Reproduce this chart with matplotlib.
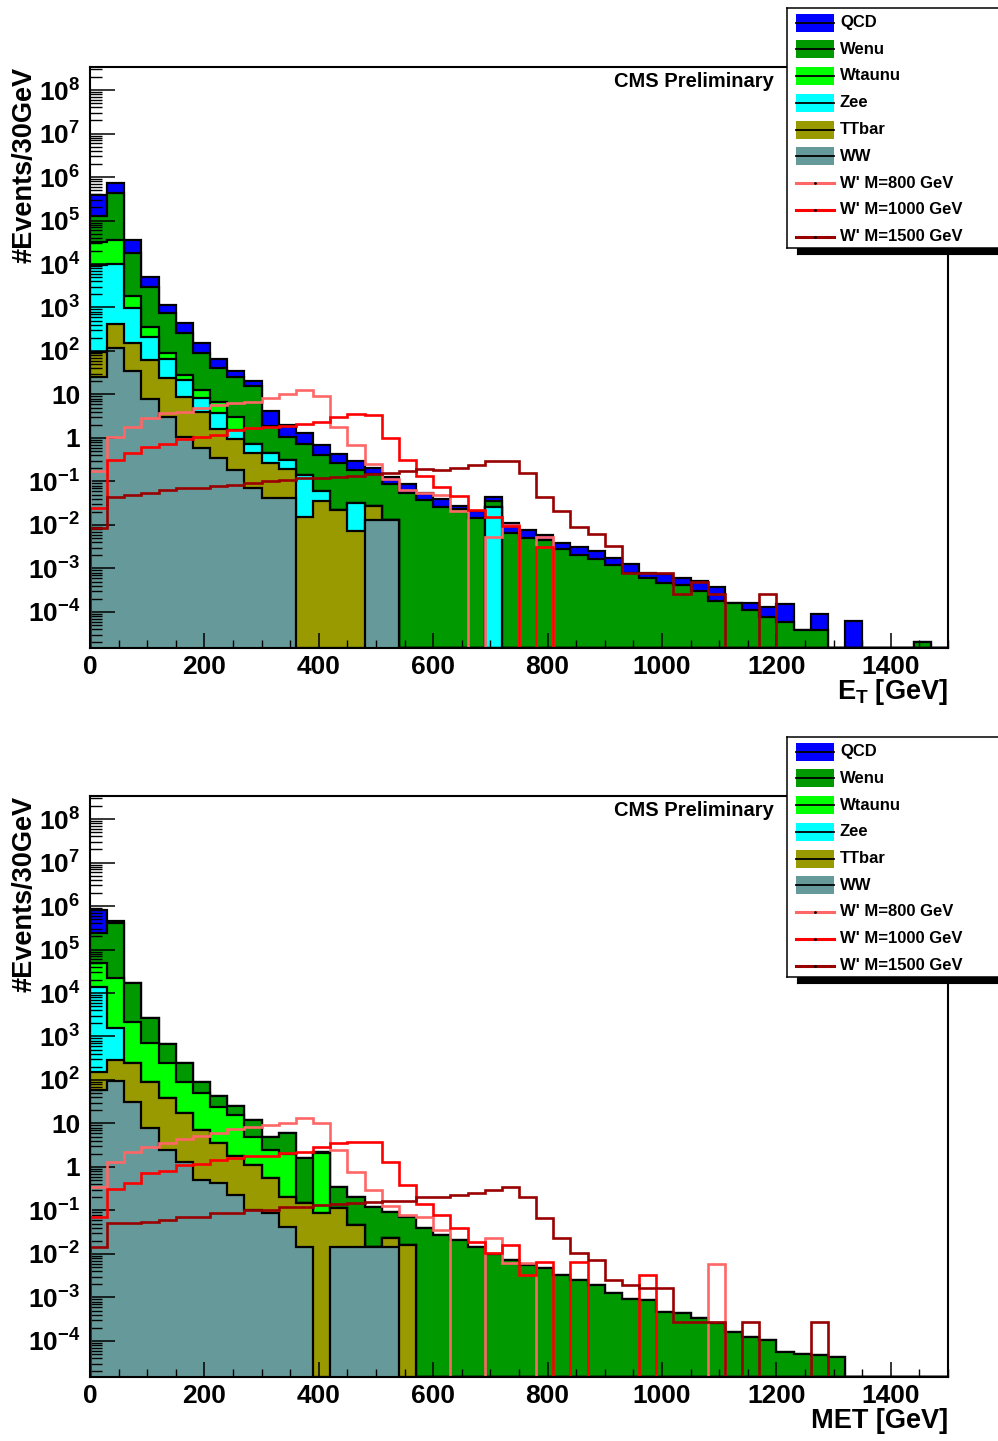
import numpy as np
import matplotlib
matplotlib.use('Agg')
import matplotlib.pyplot as plt
from matplotlib.ticker import LogLocator, FuncFormatter, MultipleLocator, NullFormatter, FixedLocator
from matplotlib.patches import Rectangle

plt.rcParams['font.family'] = 'Liberation Sans'
plt.rcParams['font.weight'] = 'bold'
plt.rcParams['mathtext.fontset'] = 'custom'
plt.rcParams['mathtext.rm'] = 'Liberation Sans:bold'
plt.rcParams['mathtext.it'] = 'Liberation Sans:bold'
plt.rcParams['mathtext.bf'] = 'Liberation Sans:bold'

# 50 bins of 30 GeV
edges = np.arange(0, 1501, 30)

# stack order: bottom -> top
samples = ['WW', 'TTbar', 'Zee', 'Wtaunu', 'Wenu', 'QCD']
sample_colors = ['#669999', '#999900', '#00ffff', '#00ff00', '#009900', '#0000ff']
signal_names = ["W' M=800 GeV", "W' M=1000 GeV", "W' M=1500 GeV"]
signal_colors = ['#ff6666', '#ff0000', '#990000']
ytick_values = [1e-4, 1e-3, 1e-2, 1e-1, 1, 10, 1e2, 1e3, 1e4, 1e5, 1e6, 1e7, 1e8]

# ---- electron E_T ----
et_ww = [25.7, 115, 34.7, 7.8, 3.1, 1.07, 0.575, 0.34, 0.182, 0.069, 0.041, 0.041,
         0, 0, 0, 0, 0.0129, 0.0129] + [0] * 32
et_ttbar = [70, 292, 120, 54, 20.3, 7.8, 3.4, 1.24, 0.75, 0.378, 0.222, 0.149,
            0.0151, 0.0355, 0.0219, 0.0074, 0.0146] + [0] * 33
et_zee = [9450, 9600, 800, 152, 41, 12.5, 4.15, 2.22, 0.58, 0.294, 0.194, 0.119,
          0.126, 0.026, 0, 0.025, 0, 0, 0, 0, 0, 0, 0, 0.0257] + [0] * 26
et_wtaunu = [22800, 25500, 865, 149, 26.6, 6.8, 4.45, 2.96, 1.58] + [0] * 41
et_wenu = [93500, 401000, 16000, 2660, 668, 235, 78.6, 34.9, 22.6, 15.1,
           1.45, 0.76, 0.583, 0.345, 0.241, 0.150, 0.124, 0.076, 0.0537, 0.0372,
           0.0257, 0.0229, 0.0141, 0.009, 0.0066, 0.0050, 0.00457, 0.00275, 0.00204, 0.00162,
           0.0012, 0.00079, 0.00059, 0.00047, 0.00042, 0.00031, 0.00018, 0.000158, 0.000112, 7.8e-5,
           5.8e-5, 3.9e-5, 3.9e-5, 0, 0, 0, 0, 0, 2e-5, 0]
et_qcd = [263000, 304000, 16900, 1880, 390, 184, 64, 22.9, 9.8, 5.1,
          2.26, 0.88, 0.594, 0.30, 0.164, 0.113, 0.049, 0.040, 0.033, 0.0165,
          0.0132, 0.0046, 0.0063, 0.009, 0.0046, 0.0026, 0.0013, 0.00114, 0.00105, 0.00089,
          0.0005, 0.00047, 0.0002, 0.00027, 0.00017, 0.00021, 0.0002, 0, 4.6e-5, 5.1e-5,
          9.4e-5, 0, 5e-5, 0, 6.3e-5, 0, 0, 0, 0, 0]
et_wp800 = [0.178, 1.07, 1.82, 2.82, 3.72, 3.98, 4.79, 5.75, 6.46, 6.76,
            8.13, 10.0, 12.6, 9.33, 1.82, 0.676, 0.251, 0.112, 0.0646, 0.0550,
            0.0490, 0.0214, 0, 0.00537, 0.0100, 0, 0.00537] + [0] * 23
et_wp1000 = [0.024, 0.309, 0.447, 0.631, 0.708, 0.933, 1.07, 1.17, 1.51, 1.66,
             1.82, 1.86, 2.09, 2.34, 3.02, 3.51, 3.43, 0.977, 0.316, 0.135,
             0.0741, 0.0468, 0.0219, 0.0155, 0.00955, 0, 0.00316] + [0] * 23
et_wp1500 = [0.0083, 0.0447, 0.049, 0.055, 0.063, 0.0724, 0.0692, 0.0794, 0.0832, 0.0933,
             0.100, 0.107, 0.117, 0.120, 0.129, 0.135, 0.148, 0.155, 0.174, 0.191,
             0.182, 0.200, 0.240, 0.288, 0.288, 0.155, 0.0437, 0.0204, 0.0089, 0.0062,
             0.0033, 0.00078, 0.00078, 0.00078, 0.00026, 0.0005, 0.00026, 0, 0, 0.00026] + [0] * 10

# ---- MET ----
met_ww = [58.9, 95.5, 31.6, 7.76, 2.45, 1.32, 0.501, 0.427, 0.229, 0.102, 0.0851, 0.0427,
          0.0148, 0, 0.0148, 0.0148, 0.0148, 0.0148] + [0] * 32
met_ttbar = [96, 193, 208, 83.4, 35.6, 15.7, 6.58, 3.12, 1.55, 1.02, 0.465, 0.166,
             0.133, 0.0851, 0.097, 0.032, 0, 0.0081, 0.0162] + [0] * 31
met_zee = [13650, 1260] + [0] * 48
met_wtaunu = [34100, 20300, 1950, 601, 202, 74.2, 41.9, 21.0, 14.0, 3.89, 1.9, 1.79,
              0, 1.96] + [0] * 36
met_wenu = [186000, 376000, 14400, 1940, 436, 149, 42.2, 17.2, 9.3, 7.0,
            2.56, 3.89, 1.43, 0.2, 0.227, 0.162, 0.108, 0.0704, 0.0562, 0.0389,
            0.0275, 0.0209, 0.0148, 0.01, 0.00724, 0.0055, 0.00468, 0.00331, 0.00245, 0.00195,
            0.00126, 0.00093, 0.00087, 0.00045, 0.00043, 0.00033, 0.00026, 0.000162, 0.000126, 0.000105,
            5.6e-5, 5e-5, 4.8e-5, 4.2e-5, 0, 0, 0, 0, 0, 0]
met_qcd = [579000, 59000] + [0] * 48
met_wp800 = [0.355, 1.32, 2.24, 2.95, 3.47, 4.37, 5.13, 6.17, 7.41, 8.13,
             9.33, 10.5, 13.2, 10.0, 2.40, 0.759, 0.302, 0.126, 0.0794, 0.0724,
             0.0347, 0, 0, 0.0229, 0.00617, 0.00617] + [0] * 10 + [0.00575] + [0] * 13
met_wp1000 = [0.0692, 0.309, 0.437, 0.708, 0.813, 1.12, 1.15, 1.45, 1.58, 1.78,
              1.78, 2.04, 2.24, 2.95, 3.47, 3.80, 3.80, 1.32, 0.389, 0.141,
              0.0794, 0.0389, 0.0191, 0.0105, 0.0162, 0.00331, 0.00661, 0, 0.00661, 0,
              0, 0, 0.00331] + [0] * 17
met_wp1500 = [0.0141, 0.0513, 0.0501, 0.055, 0.0603, 0.0692, 0.0708, 0.0851, 0.0871, 0.102,
              0.105, 0.117, 0.120, 0.132, 0.138, 0.148, 0.158, 0.162, 0.166, 0.200,
              0.204, 0.229, 0.257, 0.295, 0.339, 0.209, 0.0661, 0.0229, 0.0105, 0.00708,
              0.00251, 0.00195, 0.00162, 0.00162, 0.000275, 0.000275, 0.000275, 0, 0.000275, 0,
              0, 0, 0.000275] + [0] * 7

YMIN = 10 ** -4.83
YMAX = 10 ** 8.53
W_PX, H_PX = 998, 1441

fig = plt.figure(figsize=(W_PX / 100, H_PX / 100), dpi=100)


def log_label(v, pos):
    e = int(round(np.log10(v)))
    if e == 0:
        return '1'
    if e == 1:
        return '10'
    return r'$10^{%d}$' % e


def draw_panel(ax, stack, signals, xlabel):
    cum = np.cumsum(np.array(stack, dtype=float), axis=0)
    # draw from the top of the stack down, like THStack
    for k in range(len(stack) - 1, -1, -1):
        vals = np.where(cum[k] > 0, cum[k], YMIN)
        ax.stairs(vals, edges, baseline=YMIN, fill=True, facecolor=sample_colors[k],
                  edgecolor='none', lw=0, zorder=1 + 0.01 * (6 - k))
        ax.stairs(vals, edges, baseline=YMIN, color='black', lw=1.6,
                  zorder=1.005 + 0.01 * (6 - k))
    for vals, col in zip(signals, signal_colors):
        v = np.array(vals, dtype=float)
        ax.stairs(np.where(v > 0, v, YMIN), edges, baseline=YMIN, color=col, lw=1.9, zorder=2)

    ax.set_yscale('log')
    ax.set_xlim(0, 1500)
    ax.set_ylim(YMIN, YMAX)
    ax.yaxis.set_major_locator(FixedLocator(ytick_values))
    ax.yaxis.set_minor_locator(LogLocator(base=10, subs=np.arange(2, 10), numticks=30))
    ax.yaxis.set_major_formatter(FuncFormatter(log_label))
    ax.yaxis.set_minor_formatter(NullFormatter())
    ax.xaxis.set_major_locator(MultipleLocator(200))
    ax.xaxis.set_minor_locator(MultipleLocator(50))
    ax.tick_params(which='both', direction='in', top=False, right=False, labelsize=19)
    ax.tick_params(axis='y', which='major', length=18, width=1.1, pad=7)
    ax.tick_params(axis='y', which='minor', length=8.5, width=1.0)
    ax.tick_params(axis='x', which='major', length=11, width=1.1, pad=5)
    ax.tick_params(axis='x', which='minor', length=5.5, width=1.0)
    for s in ax.spines.values():
        s.set_linewidth(1.5)
        s.set_zorder(3)

    ax.text(-0.0758, 1.0, '#Events/30GeV', transform=ax.transAxes, rotation=90,
            ha='center', va='top', fontsize=19.5, fontweight='bold')
    ax.text(1.0, -0.076, xlabel, transform=ax.transAxes, ha='right', va='center',
            fontsize=19.5, fontweight='bold')
    ax.text(0.7965, 0.9742, 'CMS Preliminary', transform=ax.transAxes, ha='right',
            va='center', fontsize=14.5, fontweight='bold')


def draw_legend(top_px):
    w = 1020 - 787
    h = 240
    shadow = fig.add_axes([797 / W_PX, 1 - (top_px + h + 6) / H_PX, w / W_PX, h / H_PX])
    shadow.set_facecolor('black')
    shadow.set_xticks([])
    shadow.set_yticks([])
    shadow.set_zorder(5)
    lax = fig.add_axes([787 / W_PX, 1 - (top_px + h) / H_PX, w / W_PX, h / H_PX])
    lax.set_zorder(6)
    lax.set_facecolor('white')
    lax.set_xlim(0, w)
    lax.set_ylim(h, 0)
    lax.set_xticks([])
    lax.set_yticks([])
    for s in lax.spines.values():
        s.set_linewidth(1.1)
    names = samples[::-1] + signal_names
    colors = sample_colors[::-1] + signal_colors
    for i, (name, col) in enumerate(zip(names, colors)):
        yc = 14.5 + 26.75 * i
        if i < 6:
            lax.add_patch(Rectangle((9, yc - 9), 38, 18, facecolor=col, edgecolor='none'))
            lax.plot([9, 47], [yc, yc], color='black', lw=1.3)
        else:
            lax.plot([9, 47], [yc, yc], color=col, lw=2.2)
            lax.plot([28], [yc], marker='.', color='black', ms=2)
        lax.text(53, yc, name, fontsize=12, fontweight='bold', va='center', ha='left')


ax1 = fig.add_axes([90 / W_PX, 1 - 648 / H_PX, 858 / W_PX, 581 / H_PX])
draw_panel(ax1, [et_ww, et_ttbar, et_zee, et_wtaunu, et_wenu, et_qcd],
           [et_wp800, et_wp1000, et_wp1500], r'$E_{T}$ [GeV]')
draw_legend(8)

ax2 = fig.add_axes([90 / W_PX, 1 - 1377 / H_PX, 858 / W_PX, 581 / H_PX])
draw_panel(ax2, [met_ww, met_ttbar, met_zee, met_wtaunu, met_wenu, met_qcd],
           [met_wp800, met_wp1000, met_wp1500], 'MET [GeV]')
draw_legend(737)

fig.savefig('out.png', dpi=100)
